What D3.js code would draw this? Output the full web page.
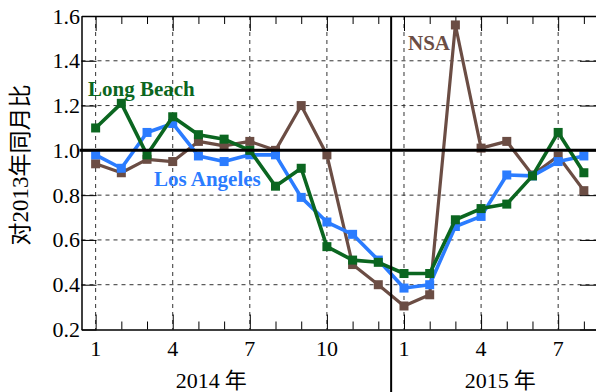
<!DOCTYPE html>
<html>
<head>
<meta charset="utf-8">
<script src="https://cdn.jsdelivr.net/npm/d3@7"></script>
<style>
  html, body { margin: 0; padding: 0; background: #fff; }
  svg { display: block; }
</style>
</head>
<body>
<svg id="chart" width="596" height="392"></svg>
<script>
// Month labels for Jan 2014 – Aug 2015 (20 months)
const months = [1,2,3,4,5,6,7,8,9,10,11,12, 1,2,3,4,5,6,7,8];
const years = ["2014", "2015"];
const yearSuffix = "年";
const monthTicks = [0, 3, 6, 9, 12, 15, 18];       // indices labelled 1,4,7,10,1,4,7
const yTicks = [0.2, 0.4, 0.6, 0.8, 1.0, 1.2, 1.4, 1.6];

// Ratio to same month of 2013
const longBeach  = [1.10, 1.21, 0.98, 1.15, 1.07, 1.05, 1.00, 0.84, 0.92, 0.57, 0.51, 0.50,
                    0.45, 0.45, 0.69, 0.74, 0.76, 0.886, 1.08, 0.90];
const losAngeles = [0.98, 0.92, 1.08, 1.12, 0.975, 0.95, 0.98, 0.98, 0.79, 0.68, 0.625, 0.51,
                    0.385, 0.40, 0.66, 0.705, 0.89, 0.886, 0.95, 0.975];
const nsa        = [0.94, 0.90, 0.96, 0.95, 1.04, 1.02, 1.04, 1.00, 1.20, 0.98, 0.49, 0.40,
                    0.305, 0.355, 1.56, 1.01, 1.04, 0.89, 0.975, 0.82];

const seriesNames = ["NSA", "Los Angeles", "Long Beach"];
const seriesColors = ["#6b4d44", "#2b7cff", "#0b6620"];
const seriesData = [nsa, losAngeles, longBeach];

const SERIF = "\"Liberation Serif\"";
const CJK = "\"Liberation Serif\", \"Noto Sans CJK SC\"";

const svg = d3.select("#chart");
const plotLeft = 81.5, plotRight = 598, plotTop = 16, plotBottom = 329.5;

const x = d3.scaleLinear().domain([-0.55, 19.55]).range([plotLeft, plotRight]);
const y = d3.scaleLinear().domain([0.2, 1.6]).range([plotBottom, plotTop]);

// grid lines
const grid = svg.append("g");
grid.selectAll("line.vg").data(monthTicks).join("line")
  .attr("x1", d => x(d)).attr("x2", d => x(d))
  .attr("y1", plotTop).attr("y2", plotBottom)
  .attr("stroke", "#333").attr("stroke-width", 1).attr("stroke-dasharray", "4,4");
grid.selectAll("line.hg").data(yTicks.filter(v => v > 0.2 && v < 1.6 && v !== 1.0)).join("line")
  .attr("x1", plotLeft).attr("x2", plotRight)
  .attr("y1", d => y(d)).attr("y2", d => y(d))
  .attr("stroke", "#333").attr("stroke-width", 1).attr("stroke-dasharray", "4,4");

// frame with inward ticks
const allMonths = d3.range(months.length);
const major = new Set(monthTicks);
svg.append("g").attr("transform", `translate(0,${plotBottom})`)
  .call(d3.axisBottom(x).tickValues(allMonths).tickSizeInner(0).tickSizeOuter(0).tickFormat(""))
  .call(g => g.select(".domain").attr("stroke", "#000").attr("stroke-width", 1.5))
  .call(g => g.selectAll(".tick line").attr("y2", d => major.has(d) ? -15 : -8).attr("stroke", "#000"));
svg.append("g").attr("transform", `translate(0,${plotTop})`)
  .call(d3.axisTop(x).tickValues(allMonths).tickSizeInner(0).tickSizeOuter(0).tickFormat(""))
  .call(g => g.select(".domain").attr("stroke", "#000").attr("stroke-width", 1.5))
  .call(g => g.selectAll(".tick line").attr("y2", d => major.has(d) ? 15 : 8).attr("stroke", "#000"));
svg.append("g").attr("transform", `translate(${plotLeft},0)`)
  .call(d3.axisLeft(y).tickValues(yTicks).tickSizeInner(-15).tickSizeOuter(0).tickPadding(18)
        .tickFormat(d3.format(".1f")))
  .call(g => g.select(".domain").attr("stroke", "#000").attr("stroke-width", 1.5))
  .call(g => g.selectAll(".tick line").attr("stroke", "#000"))
  .call(g => g.selectAll(".tick text").attr("x", -1.5).attr("fill", "#000")
        .style("font-family", SERIF).style("font-size", "22px"));
svg.append("g").attr("transform", `translate(${plotRight},0)`)
  .call(d3.axisRight(y).tickValues(yTicks).tickSizeInner(-18).tickSizeOuter(0).tickFormat(""))
  .call(g => g.select(".domain").attr("stroke", "#000").attr("stroke-width", 1.5))
  .call(g => g.selectAll(".tick line").attr("stroke", "#000"));

// month labels
svg.append("g").selectAll("text").data(monthTicks).join("text")
  .attr("x", d => x(d)).attr("y", 356)
  .attr("text-anchor", "middle").attr("fill", "#000")
  .style("font-family", SERIF).style("font-size", "22px")
  .text(d => months[d]);

// year labels
const yearText = svg.append("g").selectAll("text").data(years).join("text")
  .attr("x", (d, i) => i === 0 ? x(4.5) : x(15.75)).attr("y", 388)
  .attr("text-anchor", "middle").attr("fill", "#000")
  .style("font-family", CJK).style("font-size", "22px");
yearText.append("tspan").text(d => d);
yearText.append("tspan").attr("dx", 5).text(yearSuffix);

// y-axis title
svg.append("text")
  .attr("transform", `translate(28,165) rotate(-90)`)
  .attr("text-anchor", "middle").attr("fill", "#000")
  .style("font-family", CJK).style("font-size", "23px")
  .text("对2013年同月比");

// series
const line = d3.line().x((d, i) => x(i)).y(d => y(d));
seriesData.forEach((data, k) => {
  const g = svg.append("g");
  g.append("path").datum(data)
    .attr("d", line).attr("fill", "none")
    .attr("stroke", seriesColors[k]).attr("stroke-width", k === 0 ? 3.2 : 3.6)
    .attr("stroke-linejoin", "round");
  g.selectAll("rect").data(data).join("rect")
    .attr("x", (d, i) => x(i) - 4.5).attr("y", d => y(d) - 4.5)
    .attr("width", 9).attr("height", 9)
    .attr("fill", seriesColors[k]);
});

// reference line at 1.0 and the year separator
svg.append("line")
  .attr("x1", plotLeft - 2).attr("x2", plotRight)
  .attr("y1", y(1.0)).attr("y2", y(1.0))
  .attr("stroke", "#000").attr("stroke-width", 3);
svg.append("line")
  .attr("x1", x(11.5)).attr("x2", x(11.5))
  .attr("y1", plotTop).attr("y2", 392)
  .attr("stroke", "#000").attr("stroke-width", 2);

// series labels
const labels = [
  { name: "Long Beach", color: seriesColors[2], x: 88, y: 96 },
  { name: "Los Angeles", color: seriesColors[1], x: 154, y: 186 },
  { name: "NSA", color: seriesColors[0], x: 408, y: 50 }
];
svg.append("g").selectAll("text").data(labels).join("text")
  .attr("x", d => d.x).attr("y", d => d.y)
  .attr("fill", d => d.color)
  .style("font-family", SERIF).style("font-size", "21px").style("font-weight", "bold")
  .text(d => d.name);
</script>
</body>
</html>
